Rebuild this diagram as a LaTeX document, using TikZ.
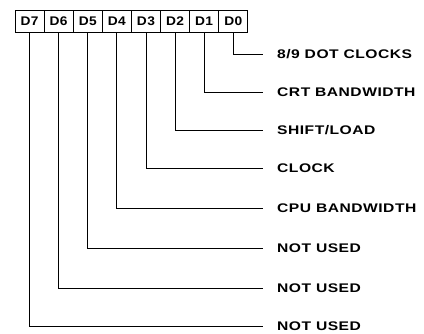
\documentclass[tikz,border=0pt]{standalone}
\usepackage{fontspec}
\newfontfamily\labfont[FakeStretch=1.25,LetterSpace=4]{Liberation Sans Bold}
\newfontfamily\boxfont[FakeStretch=1.1,LetterSpace=3]{Liberation Sans Bold}
\begin{document}
\begin{tikzpicture}[x=1pt,y=-1pt,
  bitbox/.style={draw=black,line width=0.9pt,fill=white,minimum width=29.1pt,minimum height=22pt,inner sep=0pt,font=\boxfont\fontsize{12.5}{13}\selectfont},
  lab/.style={anchor=west,inner sep=0pt,font=\labfont\fontsize{12.5}{14}\selectfont},
  lead/.style={line width=0.9pt,black}]
\useasboundingbox (0,0) rectangle (424,333);
\foreach \i/\n in {7/0,6/1,5/2,4/3,3/4,2/5,1/6,0/7}{
  \node[bitbox] (b\i) at ({15+29.1*\n+14.55},21) {D\i};
}
\node[lab] (l0) at (277,54) {8/9 DOT CLOCKS};
\node[lab] (l1) at (277,92) {CRT BANDWIDTH};
\node[lab] (l2) at (277,130) {SHIFT/LOAD};
\node[lab] (l3) at (277,168) {CLOCK};
\node[lab] (l4) at (277,208) {CPU BANDWIDTH};
\node[lab] (l5) at (277,248) {NOT USED};
\node[lab] (l6) at (277,288) {NOT USED};
\node[lab] (l7) at (277,326) {NOT USED};
\foreach \i in {0,...,7}{
  \draw[lead] (b\i.south) |- ([xshift=-14pt]l\i.west);
}
\end{tikzpicture}
\end{document}
